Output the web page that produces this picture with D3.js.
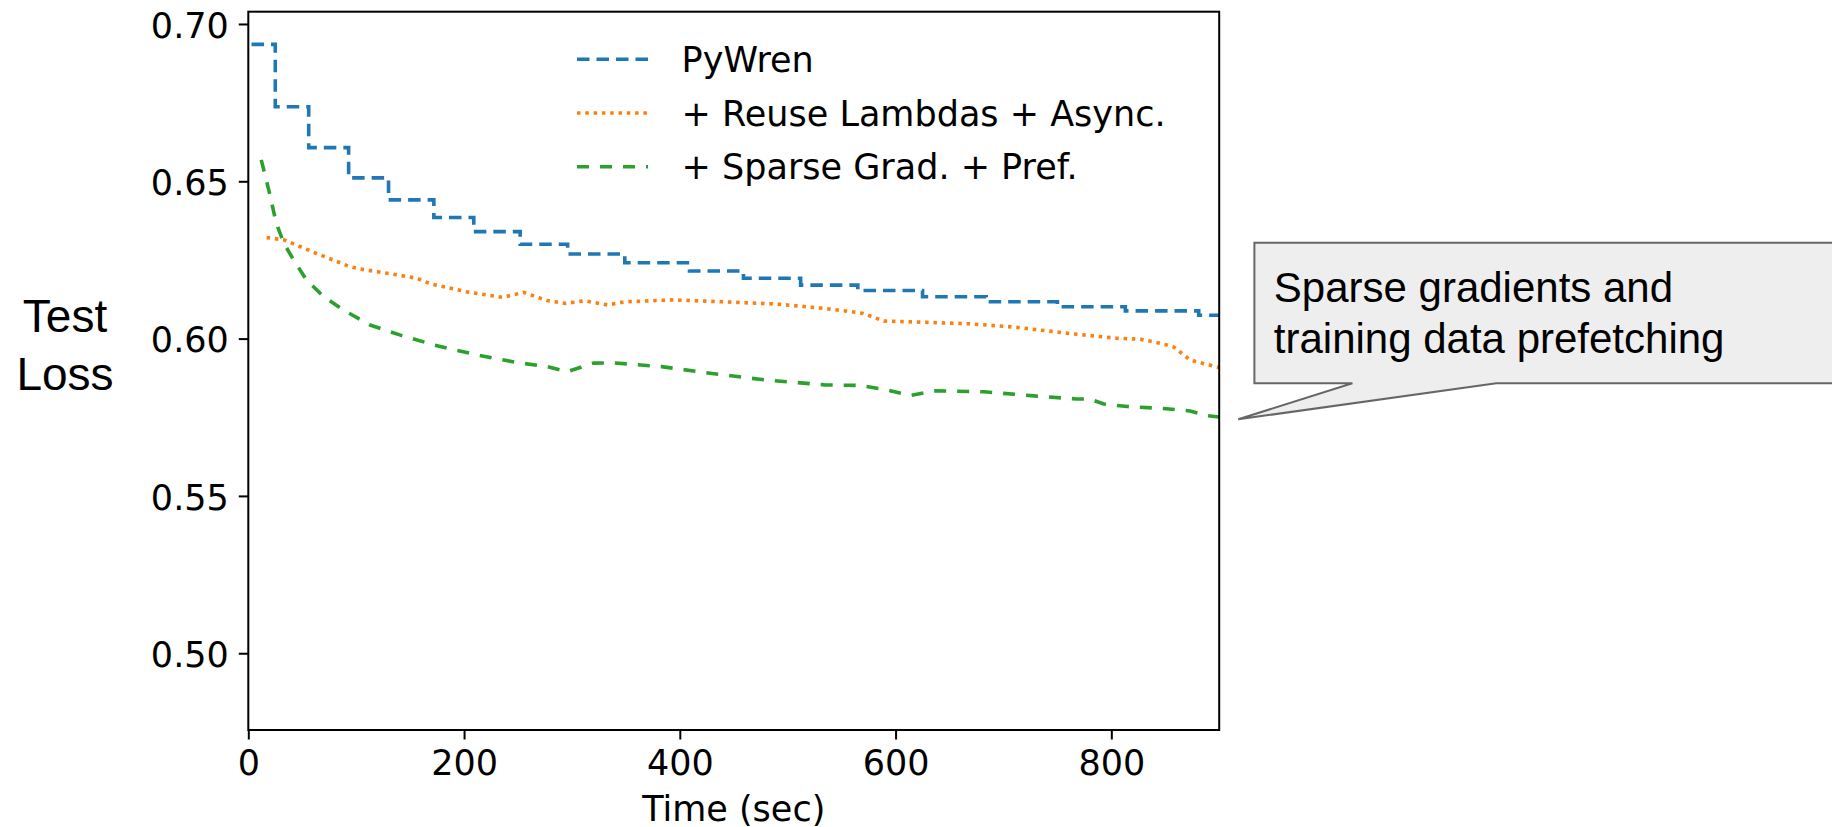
<!DOCTYPE html>
<html>
<head>
<meta charset="utf-8">
<script src="https://cdn.jsdelivr.net/npm/d3@7"></script>
<style>
    body { margin: 0; background: #fff; }
    svg { display: block; }
</style>
</head>
<body>
<div id="lossChart"></div>
<script>
// series
var blueTime = [3, 25, 56, 93, 130, 172, 209, 252, 296, 349, 409, 459, 512, 565, 625, 684, 750, 813, 881, 900];
var blueLoss = [0.6935, 0.6737, 0.6607, 0.6511, 0.6441, 0.6385, 0.6340, 0.6300, 0.6269, 0.6241, 0.6215, 0.6192, 0.6170, 0.6153, 0.6133, 0.6117, 0.6101, 0.6088, 0.6074, 0.6074];

var orangeTime = [17, 33, 63, 94, 104, 134, 156, 169, 202, 236, 255, 277, 294, 312, 333, 349, 394, 440, 489, 534, 558, 570, 589, 635, 669, 712, 759, 805, 827, 848, 858, 873, 900];
var orangeLoss = [0.6321, 0.6314, 0.6271, 0.6229, 0.6221, 0.6205, 0.6192, 0.6174, 0.6149, 0.6131, 0.6147, 0.6121, 0.6112, 0.6120, 0.6107, 0.6117, 0.6123, 0.6117, 0.6110, 0.6096, 0.6086, 0.6080, 0.6056, 0.6051, 0.6047, 0.6036, 0.6017, 0.6001, 0.5998, 0.5983, 0.5973, 0.5932, 0.5908];

var greenTime = [12, 19, 26, 33, 42, 54, 70, 88, 113, 141, 172, 212, 249, 277, 296, 320, 338, 383, 428, 478, 534, 567, 592, 614, 635, 682, 728, 768, 780, 793, 815, 848, 873, 889, 900];
var greenLoss = [0.6568, 0.6472, 0.6366, 0.6303, 0.6250, 0.6186, 0.6133, 0.6091, 0.6043, 0.6011, 0.5980, 0.5948, 0.5924, 0.5911, 0.5895, 0.5922, 0.5923, 0.5911, 0.5890, 0.5869, 0.5853, 0.5851, 0.5837, 0.5819, 0.5834, 0.5831, 0.5818, 0.5808, 0.5808, 0.5792, 0.5784, 0.5778, 0.5770, 0.5755, 0.5751];

var seriesNames = ["PyWren", "+ Reuse Lambdas + Async.", "+ Sparse Grad. + Pref."];
var xTicks = [0, 200, 400, 600, 800];
var yTicks = [0.50, 0.55, 0.60, 0.65, 0.70];
var calloutLines = ["Sparse gradients and", "training data prefetching"];

var W = 1832, H = 827;
var plotL = 248.3, plotR = 1219.2, plotT = 11.7, plotB = 730;
var tickFont = "'DejaVu Sans', sans-serif";

var svg = d3.select("#lossChart").append("svg").attr("width", W).attr("height", H);

var x = d3.scaleLinear().domain([0, 900]).range([plotL, plotR]);
var y = d3.scaleLinear().domain([0.4756, 0.7039]).range([plotB, plotT]);

var zip = function(t, v){
    return t.map(function(d, i){ return {t: d, v: v[i]}; });
};

var series = [
    {name: seriesNames[0], data: zip(blueTime, blueLoss), color: "#1f77b4", dash: "12.5,7", curve: d3.curveStepAfter},
    {name: seriesNames[1], data: zip(orangeTime, orangeLoss), color: "#ff7f0e", dash: "3.5,4.8", curve: d3.curveLinear},
    {name: seriesNames[2], data: zip(greenTime, greenLoss), color: "#2ca02c", dash: "12,11", curve: d3.curveLinear}
];

svg.append("clipPath").attr("id", "plotClip").append("rect")
    .attr("x", plotL).attr("y", plotT).attr("width", plotR - plotL).attr("height", plotB - plotT);

var plot = svg.append("g").attr("clip-path", "url(#plotClip)");

series.forEach(function(s){
    var line = d3.line()
        .x(function(d){ return x(d.t); })
        .y(function(d){ return y(d.v); })
        .curve(s.curve);
    plot.append("path")
        .datum(s.data)
        .attr("d", line)
        .attr("fill", "none")
        .attr("stroke", s.color)
        .attr("stroke-width", 3.6)
        .attr("stroke-dasharray", s.dash);
});

// axes
var xAxis = svg.append("g").attr("transform", "translate(0," + plotB + ")")
    .call(d3.axisBottom(x).tickValues(xTicks).tickSize(9.5).tickPadding(11).tickSizeOuter(0));
var yAxis = svg.append("g").attr("transform", "translate(" + plotL + ",0)")
    .call(d3.axisLeft(y).tickValues(yTicks).tickFormat(d3.format(".2f")).tickSize(9.5).tickPadding(10).tickSizeOuter(0));

[xAxis, yAxis].forEach(function(a){
    a.select(".domain").remove();
    a.selectAll(".tick line").attr("stroke", "#000").attr("stroke-width", 2);
    a.selectAll(".tick text").attr("fill", "#000").style("font-family", tickFont).style("font-size", "35px");
});
yAxis.selectAll(".tick text").attr("dy", "0.38em");

// frame
svg.append("rect")
    .attr("x", plotL).attr("y", plotT).attr("width", plotR - plotL).attr("height", plotB - plotT)
    .attr("fill", "none").attr("stroke", "#000").attr("stroke-width", 2);

svg.append("text")
    .attr("x", (plotL + plotR) / 2).attr("y", 820.5)
    .attr("text-anchor", "middle")
    .style("font-family", tickFont).style("font-size", "35px")
    .text("Time (sec)");

var yLabel = svg.append("text")
    .attr("text-anchor", "middle")
    .style("font-family", "'Liberation Sans', Arial, sans-serif").style("font-size", "46px");
yLabel.append("tspan").attr("x", 65).attr("y", 331.7).text("Test");
yLabel.append("tspan").attr("x", 65).attr("y", 390).text("Loss");

// legend
var legend = svg.append("g");
series.forEach(function(s, i){
    var ly = 59.3 + i * 53.7;
    legend.append("line")
        .attr("x1", 577).attr("x2", 648).attr("y1", ly).attr("y2", ly)
        .attr("stroke", s.color).attr("stroke-width", 3.6).attr("stroke-dasharray", s.dash);
    legend.append("text")
        .attr("x", 681.6).attr("y", ly + 12.6)
        .style("font-family", tickFont).style("font-size", "35px")
        .text(s.name);
});

// callout box pointing at the green curve
var bx0 = 1254.4, by0 = 242.7, by1 = 383.3, tipX = 1238.3, tipY = 419.3;
var callout = d3.path();
callout.moveTo(bx0, by0);
callout.lineTo(W + 10, by0);
callout.lineTo(W + 10, by1);
callout.lineTo(1496.3, by1);
callout.lineTo(tipX, tipY);
callout.lineTo(1352.4, by1);
callout.lineTo(bx0, by1);
callout.closePath();
svg.append("path").attr("d", callout.toString())
    .attr("fill", "#eeeeee").attr("stroke", "#666").attr("stroke-width", 2).attr("stroke-linejoin", "miter");

var note = svg.append("text")
    .style("font-family", "'Liberation Sans', Arial, sans-serif").style("font-size", "42px")
    .attr("fill", "#000");
calloutLines.forEach(function(t, i){
    note.append("tspan").attr("x", 1273.8).attr("y", 301.5 + i * 51.8).text(t);
});
</script>
</body>
</html>
